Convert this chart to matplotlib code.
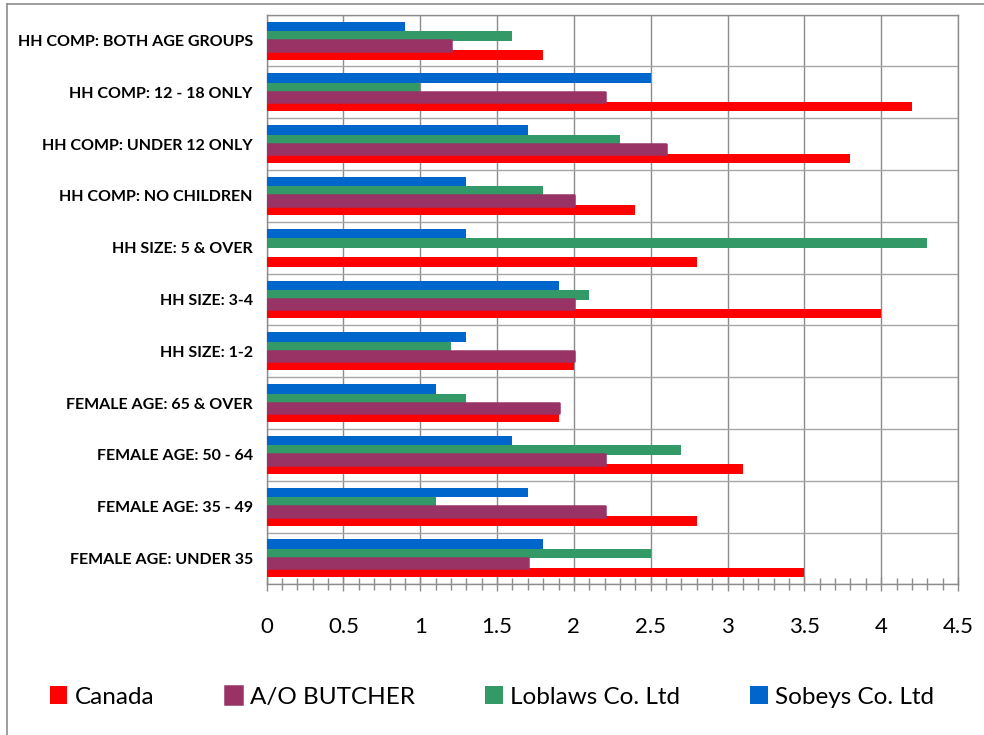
import matplotlib
matplotlib.use("Agg")
import matplotlib.pyplot as plt
import numpy as np
from matplotlib.ticker import MultipleLocator, FixedLocator
from matplotlib.lines import Line2D

plt.rcParams['font.family'] = ['Lato', 'DejaVu Sans']

categories = [
    "HH COMP: BOTH AGE GROUPS",
    "HH COMP: 12 - 18 ONLY",
    "HH COMP: UNDER 12 ONLY",
    "HH COMP: NO CHILDREN",
    "HH SIZE: 5 & OVER",
    "HH SIZE: 3-4",
    "HH SIZE: 1-2",
    "FEMALE AGE: 65 & OVER",
    "FEMALE AGE: 50 - 64",
    "FEMALE AGE: 35 - 49",
    "FEMALE AGE: UNDER 35",
]
canada = [1.8, 4.2, 3.8, 2.4, 2.8, 4.0, 2.0, 1.9, 3.1, 2.8, 3.5]
butcher = [1.2, 2.2, 2.6, 2.0, 0.0, 2.0, 2.0, 1.9, 2.2, 2.2, 1.7]
loblaws = [1.6, 1.0, 2.3, 1.8, 4.3, 2.1, 1.2, 1.3, 2.7, 1.1, 2.5]
sobeys = [0.9, 2.5, 1.7, 1.3, 1.3, 1.9, 1.3, 1.1, 1.6, 1.7, 1.8]

series_names = ["Canada", "A/O BUTCHER", "Loblaws Co. Ltd", "Sobeys Co. Ltd"]
colors = ["#FF0000", "#993366", "#339966", "#0066CC"]

fig = plt.figure(figsize=(9.84, 7.35), dpi=100)
ax = fig.add_axes([0.271, 1 - 584.3 / 735, 0.9736 - 0.271, (584.3 - 14.7) / 735])

y = np.arange(len(categories))
h = 0.183
offsets = [1.5 * h, 0.5 * h, -0.5 * h, -1.5 * h]
data = [canada, butcher, loblaws, sobeys]

handles = []
for k, (vals, off, col, name) in enumerate(zip(data, offsets, colors, series_names)):
    if k == 1:
        lw = [1.8 if v > 0 else 0 for v in vals]
        b = ax.barh(y + off, vals, height=h * 1.1, color=col, edgecolor=col,
                    linewidth=lw, joinstyle='round', zorder=4, label=name)
    else:
        b = ax.barh(y + off, vals, height=h, color=col, linewidth=0,
                    zorder=3, label=name)
    handles.append(b)

ax.set_xlim(0, 4.5)
ax.set_ylim(len(categories) - 0.5, -0.5)
ax.set_yticks(y)
ax.set_yticklabels(categories, fontsize=11.5, fontweight='bold')
ax.yaxis.set_minor_locator(FixedLocator(np.arange(-0.5, len(categories), 1.0)))
ax.tick_params(axis='y', which='both', length=0, pad=10)

ax.xaxis.set_minor_locator(MultipleLocator(0.1))
ax.set_xticks(np.arange(0, 4.51, 0.5))
ax.set_xticklabels(["0", "0.5", "1", "1.5", "2", "2.5", "3", "3.5", "4", "4.5"])
ax.tick_params(axis='x', which='major', direction='inout', length=9.5,
               width=1, color='#8c8c8c', labelsize=16, pad=19)
ax.tick_params(axis='x', which='minor', direction='inout', length=9,
               width=1, color='#8c8c8c')

ax.grid(axis='x', which='major', color='#8c8c8c', linewidth=1, zorder=0)
ax.grid(axis='y', which='minor', color='#a6a6a6', linewidth=1, zorder=0)
ax.grid(axis='y', which='major', visible=False)
ax.set_axisbelow(True)
for s in ax.spines.values():
    s.set_color('#8c8c8c')
    s.set_linewidth(1)

fig.legend(handles=handles, labels=series_names, loc='center',
           bbox_to_anchor=(0.5, 1 - 697 / 735), ncol=4, frameon=False,
           fontsize=17.5, handlelength=0.72, handleheight=0.72,
           handletextpad=0.3, columnspacing=2.9)

# outer chart border (left and top edges)
fig.add_artist(Line2D([7 / 984, 7 / 984], [0, 1 - 4 / 735], transform=fig.transFigure,
                      color='#8c8c8c', linewidth=1.2))
fig.add_artist(Line2D([7 / 984, 1], [1 - 4 / 735, 1 - 4 / 735], transform=fig.transFigure,
                      color='#8c8c8c', linewidth=1.2))

fig.savefig("out.png", dpi=100)
